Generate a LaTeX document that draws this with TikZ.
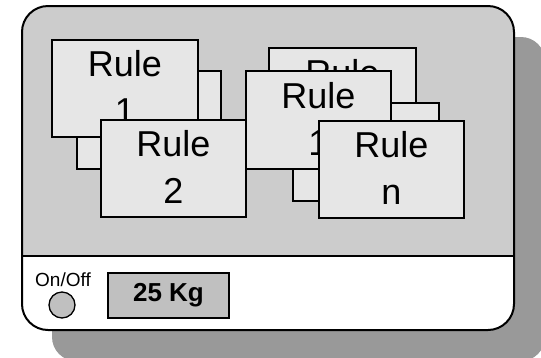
\documentclass[tikz,border=0pt]{standalone}
\usepackage{fontspec}
\setmainfont{Liberation Sans}
\usepackage{tikz}
\usetikzlibrary{positioning}
\definecolor{shadowgray}{HTML}{999999}
\definecolor{panelgray}{HTML}{CCCCCC}
\definecolor{rulegray}{HTML}{E6E6E6}
\definecolor{displaygray}{HTML}{C0C0C0}
\newcommand{\rulefont}{\fontsize{36}{47}\selectfont}

\begin{document}
\begin{tikzpicture}[x=1pt,y=-1pt,
  rulebox/.style={draw,line width=1.3pt,fill=rulegray,minimum width=146pt,minimum height=97pt,
    inner sep=0pt,align=center,font=\rulefont,text depth=3pt},
  display/.style={draw,line width=1.3pt,fill=displaygray,minimum width=121pt,minimum height=45pt,
    inner sep=0pt,font=\fontsize{26}{30}\selectfont\bfseries}]
\useasboundingbox (0,0) rectangle (541,357);
\clip (0,0) rectangle (541,357);
% shadow and body
\fill[shadowgray,rounded corners=24pt] (52,37) rectangle (545,361);
\begin{scope}
\clip[rounded corners=26pt] (22,6) rectangle (514,330);
\fill[white] (22,6) rectangle (514,330);
\fill[panelgray] (22,6) rectangle (514,256);
\end{scope}
\coordinate (divl) at (22,256);
\coordinate (divr) at (514,256);
\draw[line width=1.5pt] (divl) -- (divr);
\draw[line width=2pt,rounded corners=26pt] (22,6) rectangle (514,330);
% left stack
\node[rulebox,minimum width=144pt,minimum height=98pt] (lmid) at (149,120) {};
\node[rulebox] (rule1) at (125,88.5) {Rule\\1};
\node[rulebox,minimum width=145pt] (rule2) at (173.5,168.5) {Rule\\2};
% right stack
\node[rulebox,minimum width=147pt,minimum height=98pt,text depth=50pt] (rback) at (342.5,97) {Rule};
\node[rulebox,minimum height=98pt] (rmid) at (366,152) {};
\node[rulebox,minimum width=145pt,minimum height=98pt] (rrule1) at (318.5,120) {Rule\\1};
\node[rulebox,minimum width=145pt] (rulen) at (391.5,169.5) {Rule\\n};
% controls
\node[font=\fontsize{19}{22}\selectfont,inner sep=0pt] (onoff) at (63,280) {On/Off};
\node[circle,draw,line width=1.3pt,fill=displaygray,minimum size=26pt,inner sep=0pt] (button) at (62,305) {};
\node[display] (weight) at (168.5,295.5) {25 Kg};
\end{tikzpicture}
\end{document}
